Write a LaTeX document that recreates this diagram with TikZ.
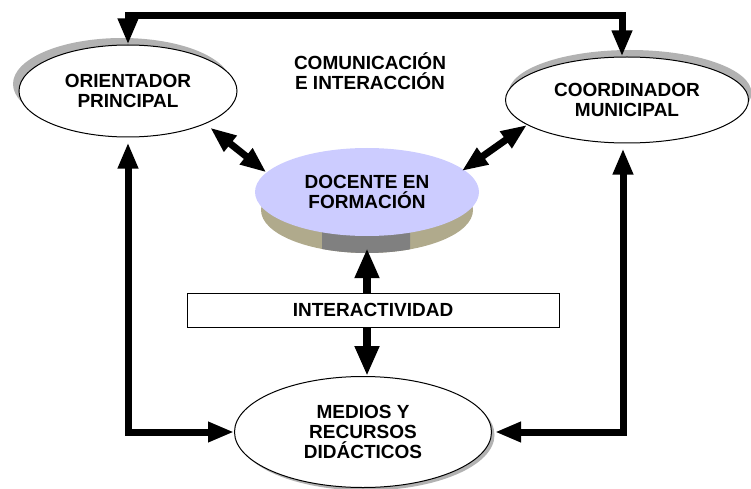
\documentclass[tikz,border=0pt]{standalone}
\usepackage{fontspec}
\setmainfont{Liberation Sans}
\usepackage{xcolor}
\definecolor{lavanda}{RGB}{204,204,255}
\definecolor{arena}{RGB}{176,170,140}
\definecolor{grisbanda}{RGB}{128,128,128}
\definecolor{sombra}{RGB}{178,178,178}
\usepackage{tikz}
\usetikzlibrary{arrows.meta,shapes.geometric,shadows}

\begin{document}
\begin{tikzpicture}[x=1pt,y=-1pt,
        txt/.style={font=\bfseries\fontsize{19}{20}\selectfont, align=center},
        elipse/.style={ellipse, draw, line width=1pt, fill=white, inner sep=0pt, txt},
        flecha/.style={line width=7pt, {Triangle[length=26pt,width=19pt]}-{Triangle[length=26pt,width=19pt]}},
        flechac/.style={line width=8pt, -{Triangle[length=30pt,width=23pt]}}
    ]
    \useasboundingbox (0,0) rectangle (751,489);

    % disco del docente
    \fill[arena] (367,210) ellipse [x radius=106pt, y radius=43pt];
    \begin{scope}
        \clip (322,200) rectangle (410,260);
        \fill[grisbanda] (367,210) ellipse [x radius=106pt, y radius=43pt];
    \end{scope}
    \node[ellipse, fill=lavanda, inner sep=0pt, txt, minimum width=224pt, minimum height=88pt] (docente) at (367,192) {DOCENTE EN\\FORMACIÓN};

    \node[elipse, minimum width=218pt, minimum height=92pt,
        drop shadow={shadow xshift=-6pt, shadow yshift=7pt, fill=sombra, opacity=1}] (orient) at (128,91) {ORIENTADOR\\PRINCIPAL};
    \node[elipse, minimum width=243pt, minimum height=86pt,
        drop shadow={shadow xshift=3pt, shadow yshift=7pt, fill=sombra, opacity=1}] (coord) at (627,100) {COORDINADOR\\MUNICIPAL};
    \node[elipse, minimum width=257pt, minimum height=111pt,
        drop shadow={shadow xshift=3pt, shadow yshift=-3pt, fill=sombra, opacity=1}] (medios) at (363,432) {MEDIOS Y\\RECURSOS\\DIDÁCTICOS};
    \node[draw, line width=1pt, txt, minimum width=372pt, minimum height=34pt, inner sep=0pt] (inter) at (373,310) {INTERACTIVIDAD};
    \node[txt] (comun) at (370,71) {COMUNICACIÓN\\E INTERACCIÓN};

    % conexiones
    \draw[flecha] (orient.north) -- (orient.north |- 0,16) -| ([xshift=-5pt]coord.north);
    \draw[flecha, shorten <=5pt] (orient.south) |- (medios.west);
    \draw[flecha, shorten <=5pt] ([xshift=-4pt]coord.south) |- ([xshift=3pt]medios.east);
    \draw[flecha, shorten <=6pt] (orient.-23) -- (docente.169);
    \draw[flecha] (coord.194) -- ([xshift=-4pt]docente.12);
    \draw[flechac] (docente.south |- inter.north) -- ([yshift=-12pt]docente.south);
    \draw[flechac] (docente.south |- inter.south) -- (docente.south |- medios.north);
\end{tikzpicture}
\end{document}
